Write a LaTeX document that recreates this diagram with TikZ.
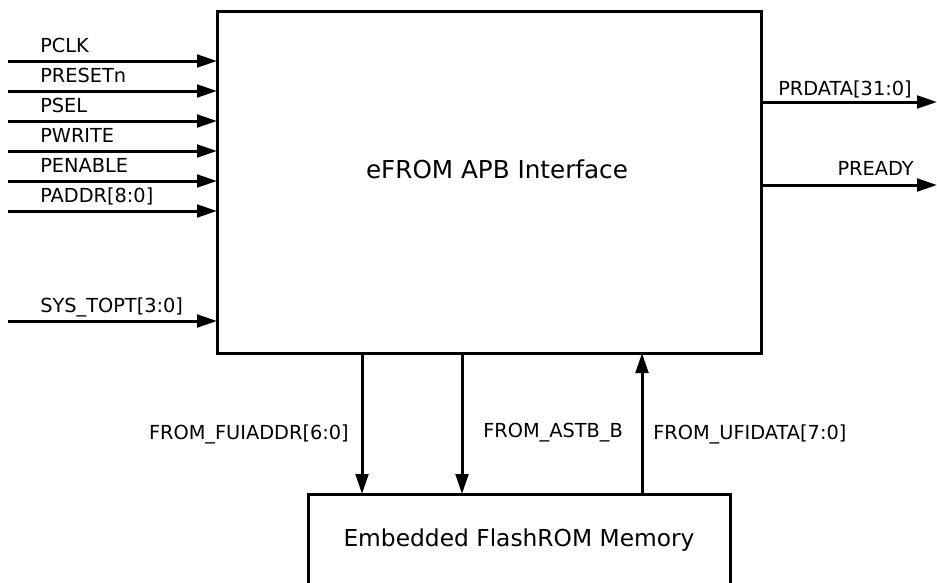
\documentclass[tikz,border=0pt]{standalone}
\usepackage{fontspec}
\setmainfont{DejaVu Sans}
\usetikzlibrary{arrows.meta,calc}

\tikzset{
  block/.style={draw, line width=2.25pt, inner sep=0pt, outer sep=0pt},
  sig/.style={line width=2.25pt, -{Triangle[length=15pt,width=9.5pt]}},
  lbl/.style={inner sep=0pt, font=\fontsize{14.5}{17}\selectfont},
  title/.style={inner sep=0pt, font=\fontsize{18.5}{22}\selectfont},
}

\begin{document}
\begin{tikzpicture}[x=0.75pt,y=-0.75pt]
\useasboundingbox (0,0) rectangle (937,582);
\clip (0,0) rectangle (937,582);

% interface block and memory block
\node[block, minimum width=408pt, minimum height=256.5pt] (apb) at (489,182) {};
\node[title, anchor=base] (apbtitle) at (497,178) {eFROM APB Interface};
\node[block, minimum width=316.5pt, minimum height=69pt, font=\fontsize{17.5}{21}\selectfont] (mem) at (519,540) {Embedded FlashROM Memory};

% APB inputs
\foreach \y/\name/\txt in {61/pclk/PCLK, 91/preset/PRESETn, 121/psel/PSEL,
    151/pwrite/PWRITE, 181/penable/PENABLE, 211/paddr/{PADDR[8:0]}, 321/topt/{SYS\_TOPT[3:0]}} {
  \coordinate (\name) at (8,\y);
  \draw[sig] (\name) -- (\name -| apb.west);
  \node[lbl, anchor=base west] (\name lbl) at ($(\name)+(32,-9)$) {\txt};
}

% APB outputs
\coordinate (prdata) at (937,102);
\coordinate (pready) at (937,185);
\draw[sig] (prdata -| apb.east) -- (prdata);
\draw[sig] (pready -| apb.east) -- (pready);
\node[lbl, anchor=base west] (prdatalbl) at (778,95) {PRDATA[31:0]};
\node[lbl, anchor=base east] (preadylbl) at (914,175) {PREADY};

% flash memory interface
\coordinate (addrx) at (362,0);
\coordinate (astbx) at (462,0);
\coordinate (datax) at (642,0);
\draw[sig] (addrx |- apb.south) -- (addrx |- mem.north);
\draw[sig] (astbx |- apb.south) -- (astbx |- mem.north);
\draw[sig] (datax |- mem.north) -- (datax |- apb.south);
\node[lbl, anchor=base east] (addrlbl) at (349,439) {FROM\_FUIADDR[6:0]};
\node[lbl, anchor=base west] (astblbl) at (483,437) {FROM\_ASTB\_B};
\node[lbl, anchor=base west] (datalbl) at (653,439) {FROM\_UFIDATA[7:0]};
\end{tikzpicture}
\end{document}
